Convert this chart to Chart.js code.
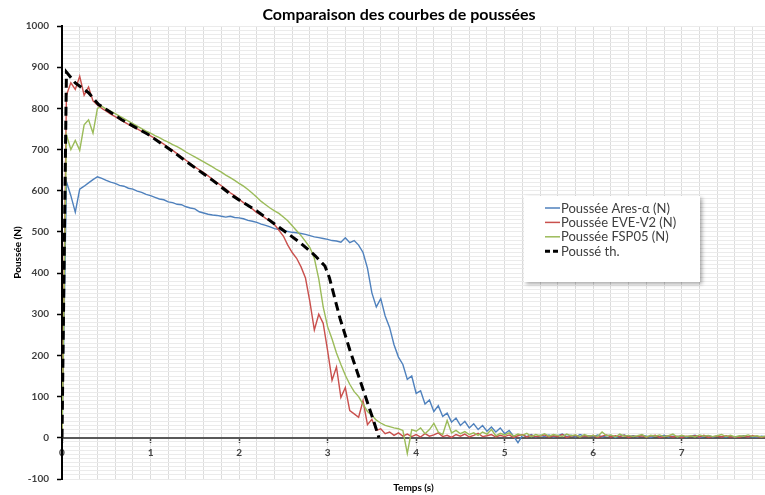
<!DOCTYPE html>
<html lang="fr">
<head>
<meta charset="utf-8">
<script src="https://cdn.jsdelivr.net/npm/chart.js@4.4.1/dist/chart.umd.min.js"></script>
<style>
  html, body { margin: 0; padding: 0; background: #fff; }
  canvas { display: block; }
</style>
</head>
<body>
<canvas id="chartPoussee" width="765" height="495"></canvas>
<script>
Chart.defaults.font.family = "Lato, 'Liberation Sans', sans-serif";

const TITRE = 'Comparaison des courbes de poussées';
const LEGENDES = ['Poussée Ares-α (N)', 'Poussée EVE-V2 (N)', 'Poussée FSP05 (N)', 'Poussé th.'];
const COULEURS = ['#4F81BD', '#C9504D', '#9BBB59', '#000000'];
const X_MAX = 7.94;

// temps de mesure (s)
const temps = [
  0, 0.05, 0.1, 0.15, 0.2, 0.25, 0.3, 0.35, 0.4, 0.45,
  0.5, 0.55, 0.6, 0.65, 0.7, 0.75, 0.8, 0.85, 0.9, 0.95,
  1, 1.05, 1.1, 1.15, 1.2, 1.25, 1.3, 1.35, 1.4, 1.45,
  1.5, 1.55, 1.6, 1.65, 1.7, 1.75, 1.8, 1.85, 1.9, 1.95,
  2, 2.05, 2.1, 2.15, 2.2, 2.25, 2.3, 2.35, 2.4, 2.45,
  2.5, 2.55, 2.6, 2.65, 2.7, 2.75, 2.8, 2.85, 2.9, 2.95,
  3, 3.05, 3.1, 3.15, 3.2, 3.25, 3.3, 3.35, 3.4, 3.45,
  3.5, 3.55, 3.6, 3.65, 3.7, 3.75, 3.8, 3.85, 3.9, 3.95,
  4, 4.05, 4.1, 4.15, 4.2, 4.25, 4.3, 4.35, 4.4, 4.45,
  4.5, 4.55, 4.6, 4.65, 4.7, 4.75, 4.8, 4.85, 4.9, 4.95,
  5, 5.05, 5.1, 5.15, 5.2, 5.25, 5.3, 5.35, 5.4, 5.45,
  5.5, 5.55, 5.6, 5.65, 5.7, 5.75, 5.8, 5.85, 5.9, 5.95,
  6, 6.05, 6.1, 6.15, 6.2, 6.25, 6.3, 6.35, 6.4, 6.45,
  6.5, 6.55, 6.6, 6.65, 6.7, 6.75, 6.8, 6.85, 6.9, 6.95,
  7, 7.05, 7.1, 7.15, 7.2, 7.25, 7.3, 7.35, 7.4, 7.45,
  7.5, 7.55, 7.6, 7.65, 7.7, 7.75, 7.8, 7.85, 7.9, 7.95,
];

const poussAres = [
  0, 622, 588, 548, 604, 611, 619, 627, 634, 630,
  625, 621, 618, 613, 611, 606, 604, 599, 596, 591,
  588, 584, 580, 578, 573, 571, 567, 566, 561, 558,
  556, 549, 546, 543, 541, 540, 538, 536, 538, 535,
  534, 532, 528, 526, 523, 519, 516, 512, 508, 506,
  503, 501, 499, 498, 496, 494, 491, 488, 486, 484,
  482, 479, 478, 475, 486, 474, 479, 468, 450, 412,
  352, 318, 338, 296, 268, 226, 196, 178, 142, 150,
  108, 114, 82, 92, 64, 78, 52, 60, 38, 48,
  30, 40, 24, 34, 20, 30, 16, 26, 14, 24,
  10, 18, 4, -12, 6, 3, 8, 2, 6, 3,
  7, 2, 5, 9, 3, 6, 2, 8, 4, 5,
  3, 7, 2, 5, 6, 1, 4, 7, 3, 5,
  2, 6, 4, 1, 5, 3, 6, 2, 4, 3,
  5, 2, 4, 6, 1, 3, 5, 2, 4, 3,
  2, 4, 1, 3, 5, 2, 3, 1, 4, 2,
];

const poussEve = [
  0, 832, 862, 846, 878, 832, 852, 818, 808, 800,
  793, 786, 780, 774, 767, 761, 755, 750, 744, 739,
  733, 727, 720, 713, 705, 698, 690, 682, 674, 666,
  658, 651, 644, 636, 628, 620, 612, 604, 595, 588,
  579, 571, 563, 556, 547, 541, 533, 527, 518, 504,
  490, 468, 450, 436, 415, 388, 330, 262, 300, 278,
  212, 140, 172, 98, 122, 66, 58, 50, 90, 32,
  45, 18, 22, 10, 14, 6, 12, 4, 9, 3,
  8, 2, 10, 4, 7, 12, 3, 6, 1, 8,
  4, 9, 2, 6, 11, 3, 5, 8, 2, 6,
  3, 7, 1, 5, 8, 2, 6, 3, 4, 7,
  2, 5, 3, 8, 1, 4, 6, 2, 5, 3,
  6, 1, 4, 7, 2, 5, 3, 6, 1, 4,
  3, 5, 2, 4, 6, 1, 3, 5, 2, 4,
  1, 4, 3, 5, 2, 6, 1, 3, 4, 2,
  5, 2, 3, 1, 4, 2, 5, 3, 1, 3,
];

const poussFsp = [
  0, 736, 700, 722, 698, 760, 772, 740, 800, 805,
  798, 793, 787, 781, 775, 769, 763, 757, 751, 745,
  740, 734, 729, 723, 718, 712, 707, 701, 694, 688,
  682, 676, 670, 664, 658, 651, 645, 638, 632, 625,
  618, 611, 603, 594, 584, 574, 566, 558, 551, 545,
  536, 527, 515, 503, 491, 477, 462, 436, 386, 318,
  270, 240, 206, 178, 152, 130, 112, 100, 82, 64,
  55, 43, 36, 30, 27, 24, 22, 18, -38, 20,
  16, 24, 10, 20, 35, 14, 8, 42, 12, 18,
  10, 15, 8, 12, 6, 14, 9, 20, 5, 11,
  7, 12, 4, 9, 6, 11, 3, 8, 5, 10,
  4, 8, 6, 3, 9, 5, 7, 2, 8, 4,
  6, 3, 14, 5, 7, 2, 9, 4, 6, 3,
  5, 8, 2, 6, 4, 7, 3, 5, 9, 2,
  6, 3, 5, 2, 7, 4, 6, 3, 5, 8,
  3, 6, 2, 5, 4, 7, 3, 5, 2, 4,
];

// courbe théorique
const tempsTh = [0, 0.05, 0.15, 0.3, 0.41, 0.67, 0.97, 1.24, 1.5, 1.71, 1.93, 2.2, 2.46, 2.69, 2.86, 2.97, 3.02, 3.14, 3.25, 3.4, 3.53, 3.58];
const poussTh = [0, 888, 862, 838, 810, 773, 737, 697, 656, 624, 587, 551, 510, 474, 442, 417, 389, 290, 214, 118, 34, 0];

// graduations : quadrillage secondaire 0,2 s et 10 N, étiquettes aux entiers / centaines
const X_PAS = 0.2, Y_PAS = 10;
const gradX = [];
for (let i = 0; i * X_PAS <= X_MAX; i++) gradX.push(Math.round(i * X_PAS * 10) / 10);
const gradY = [];
for (let v = -100; v <= 1000; v += Y_PAS) gradY.push(v);

const isInt = v => Math.abs(v - Math.round(v)) < 1e-6;
const toPoints = (xs, ys) => xs.map((t, i) => ({ x: t, y: ys[i] }));

/** Titre + légende encadrée */
const decor = {
  id: 'decor',
  afterDraw(chart) {
    const ctx = chart.ctx;
    ctx.save();
    ctx.fillStyle = '#000';
    ctx.font = "bold 16px Lato, sans-serif";
    ctx.textAlign = 'center';
    ctx.textBaseline = 'middle';
    ctx.fillText(TITRE, 399, 15);

    // cadre de la légende
    const bx = 524, by = 196, bw = 176, bh = 86;
    ctx.save();
    ctx.shadowColor = 'rgba(0,0,0,0.35)';
    ctx.shadowBlur = 4;
    ctx.shadowOffsetX = 2;
    ctx.shadowOffsetY = 2;
    ctx.fillStyle = '#fff';
    ctx.fillRect(bx, by, bw, bh);
    ctx.restore();

    ctx.font = "13px Lato, sans-serif";
    ctx.textAlign = 'left';
    chart.data.datasets.forEach((ds, i) => {
      const y = 208 + i * 14.4;
      ctx.strokeStyle = ds.borderColor;
      ctx.lineWidth = ds.borderDash ? 3 : 1.5;
      ctx.setLineDash(ds.borderDash ? [5, 3] : []);
      ctx.beginPath();
      ctx.moveTo(545, y);
      ctx.lineTo(560, y);
      ctx.stroke();
      ctx.setLineDash([]);
      ctx.fillStyle = '#404040';
      ctx.fillText(ds.label, 561, y + 0.5);
    });
    ctx.restore();
  },
};

new Chart(document.getElementById('chartPoussee'), {
  type: 'line',
  data: {
    datasets: [
      { label: LEGENDES[0], data: toPoints(temps, poussAres), borderColor: COULEURS[0], borderWidth: 1.4, order: 4 },
      { label: LEGENDES[1], data: toPoints(temps, poussEve),  borderColor: COULEURS[1], borderWidth: 1.4, order: 3 },
      { label: LEGENDES[2], data: toPoints(temps, poussFsp),  borderColor: COULEURS[2], borderWidth: 1.4, order: 2 },
      { label: LEGENDES[3], data: toPoints(tempsTh, poussTh), borderColor: COULEURS[3], borderWidth: 3, borderDash: [9, 5], order: 1 },
    ],
  },
  options: {
    responsive: false,
    animation: false,
    layout: { padding: { top: 26, right: 0, bottom: 0, left: 0 } },
    elements: { point: { radius: 0 }, line: { tension: 0, fill: false } },
    plugins: { legend: { display: false }, tooltip: { enabled: false }, title: { display: false } },
    scales: {
      x: {
        type: 'linear', position: { y: 0 }, min: 0, max: X_MAX,
        afterBuildTicks: axis => { axis.ticks = gradX.map(v => ({ value: v })); },
        afterFit: s => { s.height = 0; },
        grid: {
          color: '#dcdcdc', lineWidth: 1, tickLength: 4, tickWidth: 1.5,
          tickColor: c => (c.tick && isInt(c.tick.value)) ? '#404040' : 'rgba(0,0,0,0)',
        },
        border: { color: '#595959', width: 2 },
        ticks: {
          autoSkip: false, maxRotation: 0, padding: 5,
          color: '#404040', font: { size: 10, weight: 'bold' },
          callback: v => isInt(v) ? String(Math.round(v)) : '',
        },
      },
      xt: {
        type: 'linear', position: 'bottom', min: 0, max: X_MAX,
        afterFit: s => { s.height = 16; },
        grid: { display: false }, border: { display: false }, ticks: { display: false },
        title: { display: true, text: 'Temps (s)', color: '#000', font: { size: 10, weight: 'bold' }, padding: { top: 0, bottom: 1 } },
      },
      y: {
        type: 'linear', position: 'left', min: -100, max: 1000,
        afterBuildTicks: axis => { axis.ticks = gradY.map(v => ({ value: v })); },
        afterFit: s => { s.width = 62; },
        grid: {
          color: '#ebebeb', lineWidth: 1, tickLength: 5, tickWidth: 1.5,
          tickColor: c => (c.tick && c.tick.value % 100 === 0) ? '#000' : 'rgba(0,0,0,0)',
        },
        border: { color: '#000', width: 2 },
        ticks: {
          autoSkip: false, padding: 8,
          color: '#404040', font: { size: 10, weight: 'bold' },
          callback: v => v % 100 === 0 ? String(v) : '',
        },
        title: { display: true, text: 'Poussée (N)', color: '#000', font: { size: 10, weight: 'bold' }, padding: { top: 12, bottom: 0 } },
      },
    },
  },
  plugins: [decor],
});
</script>
</body>
</html>
